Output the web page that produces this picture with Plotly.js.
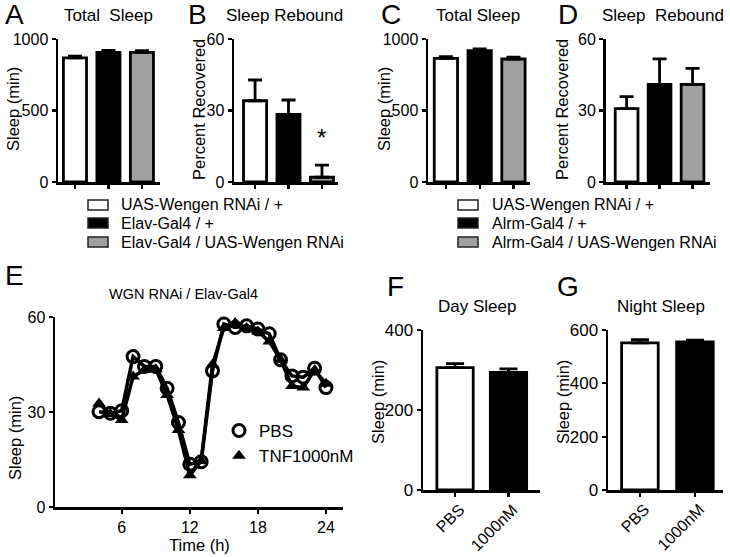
<!DOCTYPE html>
<html>
<head>
<meta charset="utf-8">
<script src="https://cdn.plot.ly/plotly-3.0.1.min.js"></script>
<style>html,body{margin:0;padding:0;background:#fff;}#chart{width:730px;height:557px;}</style>
</head>
<body>
<div id="chart"></div>
<script>
// ---------- DATA ----------
const groupsElav = ['UAS-Wengen RNAi / +', 'Elav-Gal4 / +', 'Elav-Gal4 / UAS-Wengen RNAi'];
const groupsAlrm = ['UAS-Wengen RNAi / +', 'Alrm-Gal4 / +', 'Alrm-Gal4 / UAS-Wengen RNAi'];

const totalSleepElav = [868, 906, 906];
const totalSleepElavErr = [12, 14, 13];
const reboundElav = [34.1, 28.4, 2.0];
const reboundElavErr = [8.7, 6.0, 5.1];

const totalSleepAlrm = [865, 918, 860];
const totalSleepAlrmErr = [12, 13, 13];
const reboundAlrm = [30.8, 41.0, 41.0];
const reboundAlrmErr = [5.0, 10.7, 6.7];

const hours = [4, 5, 6, 7, 8, 9, 10, 11, 12, 13, 14, 15, 16, 17, 18, 19, 20, 21, 22, 23, 24];
const sleepPBS = [30.1, 29.6, 30.4, 47.5, 44.4, 44.4, 37.5, 26.7, 13.5, 14.3, 43.0, 57.8, 56.7, 57.2, 56.2, 54.7, 46.5, 41.4, 41.0, 43.8, 37.7];
const sleepTNF = [32.7, 29.4, 27.5, 41.2, 43.3, 43.5, 35.4, 24.3, 10.0, 14.5, 45.0, 56.5, 58.1, 56.5, 55.4, 52.3, 46.5, 38.2, 37.7, 43.3, 38.9];

const treatments = ['PBS', '1000nM'];
const daySleep = [306, 294];
const daySleepErr = [10, 9];
const nightSleep = [552, 555];
const nightSleepErr = [12, 7];

const fills = ['#ffffff', '#000000', '#a0a0a0'];
const treatFills = ['#ffffff', '#000000'];

// ---------- HELPERS ----------
const W = 730, H = 557;
const px = v => v / W;
const py = v => 1 - v / H;
const FONT = 'Liberation Sans, Arial, Helvetica, sans-serif';

function barSet(cats, vals, errs, colors, xa, ya, width, capw) {
  return cats.map((c, i) => ({
    type: 'bar', x: [c], y: [vals[i]], name: c, xaxis: xa, yaxis: ya,
    width: width, showlegend: false,
    marker: {color: colors[i], line: {color: '#000', width: 2.8}},
    error_y: {type: 'data', array: [errs[i]], arrayminus: [0], symmetric: false,
              color: '#000', thickness: 2.8, width: capw},
    hoverinfo: 'none'
  }));
}

const traces = [
  ...barSet(groupsElav, totalSleepElav, totalSleepElavErr, fills, 'x', 'y', 0.69, 7),
  ...barSet(groupsElav, reboundElav, reboundElavErr, fills, 'x2', 'y2', 0.69, 7),
  ...barSet(groupsAlrm, totalSleepAlrm, totalSleepAlrmErr, fills, 'x3', 'y3', 0.69, 7),
  ...barSet(groupsAlrm, reboundAlrm, reboundAlrmErr, fills, 'x4', 'y4', 0.69, 7),
  {type: 'scatter', mode: 'lines+markers', x: hours, y: sleepTNF, xaxis: 'x5', yaxis: 'y5',
   name: 'TNF1000nM', showlegend: false, cliponaxis: false,
   line: {color: '#000', width: 3.5}, marker: {symbol: 'triangle-up', size: 12, color: '#000'}},
  {type: 'scatter', mode: 'lines+markers', x: hours, y: sleepPBS, xaxis: 'x5', yaxis: 'y5',
   name: 'PBS', showlegend: false, cliponaxis: false,
   line: {color: '#000', width: 3.5},
   marker: {symbol: 'circle-open', size: 12, color: '#000', line: {width: 3, color: '#000'}}},
  // legend keys for panel E (marker only)
  {type: 'scatter', mode: 'markers', x: [null], y: [null], xaxis: 'x5', yaxis: 'y5', name: 'PBS',
   legend: 'legend', marker: {symbol: 'circle-open', size: 12, color: '#000', line: {width: 3, color: '#000'}}},
  {type: 'scatter', mode: 'markers', x: [null], y: [null], xaxis: 'x5', yaxis: 'y5', name: 'TNF1000nM',
   legend: 'legend', marker: {symbol: 'triangle-up', size: 12, color: '#000'}},
  ...barSet(treatments, daySleep, daySleepErr, treatFills, 'x6', 'y6', 0.68, 9),
  ...barSet(treatments, nightSleep, nightSleepErr, treatFills, 'x7', 'y7', 0.665, 9)
];

const axBase = {
  showline: true, linecolor: '#000', linewidth: 2.5, ticks: 'outside', ticklen: 4,
  tickwidth: 2.2, tickcolor: '#000', showgrid: false, zeroline: false,
  tickfont: {family: FONT, size: 16, color: '#000'}, fixedrange: true
};
function xcat(dom, cats, range, anchor) {
  return Object.assign({}, axBase, {domain: [px(dom[0]), px(dom[1])], type: 'category',
    categoryorder: 'array', categoryarray: cats, range: range, anchor: anchor,
    showticklabels: false});
}
function ylin(dom, range, dtick, anchor, fsize) {
  return Object.assign({}, axBase, {domain: [py(dom[1]), py(dom[0])], range: range,
    tickmode: 'linear', tick0: 0, dtick: dtick, anchor: anchor,
    tickfont: {family: FONT, size: fsize || 16, color: '#000'}});
}

const ann = [];
function txt(t, x, y, size, opts) {
  ann.push(Object.assign({text: t, x: px(x), y: py(y), xref: 'paper', yref: 'paper',
    showarrow: false, xanchor: 'center', yanchor: 'middle',
    font: {family: FONT, size: size, color: '#000'}}, opts || {}));
}
// panel letters
txt('A', 3, 14, 28, {xanchor: 'left'});
txt('B', 186, 14, 28, {xanchor: 'left'});
txt('C', 379, 14, 28, {xanchor: 'left'});
txt('D', 556, 14, 28, {xanchor: 'left'});
txt('E', 3, 276, 28, {xanchor: 'left'});
txt('F', 385, 286, 28, {xanchor: 'left'});
txt('G', 555, 286, 28, {xanchor: 'left'});
// panel titles
txt('Total&nbsp;&nbsp;Sleep', 108, 16, 17);
txt('Sleep Rebound', 284, 16, 17);
txt('Total Sleep', 478, 16, 17);
txt('Sleep&nbsp;&nbsp;Rebound', 663, 16, 17);
txt('WGN RNAi / Elav-Gal4', 183, 294, 14.5);
txt('Day Sleep', 477, 306, 17);
txt('Night Sleep', 661, 306, 17);
// axis titles
txt('Sleep (min)', 13, 109, 16.5, {textangle: -90});
txt('Percent Recovered', 199, 110, 16.5, {textangle: -90});
txt('Sleep (min)', 384, 109, 16.5, {textangle: -90});
txt('Percent Recovered', 562, 110, 16.5, {textangle: -90});
txt('Sleep (min)', 15, 438, 16.5, {textangle: -90});
txt('Sleep (min)', 378, 402, 16.5, {textangle: -90});
txt('Sleep (min)', 563, 402, 16.5, {textangle: -90});
txt('Time (h)', 199, 545, 16.5);
// rotated category labels for panels F and G
['x6', 'x7'].forEach(xr => {
  treatments.forEach(t => {
    ann.push({text: t, x: t, xref: xr, y: py(498), yref: 'paper', showarrow: false,
      textangle: -45, xanchor: 'right', yanchor: 'top', xshift: 15,
      font: {family: FONT, size: 16, color: '#000'}});
  });
});
// significance star
ann.push({text: '*', x: groupsElav[2], y: reboundElav[2] + reboundElavErr[2], xref: 'x2', yref: 'y2',
  showarrow: false, yanchor: 'bottom', yshift: 12, font: {family: FONT, size: 24, color: '#000'}});

// manual legends for panels A-B and C-D
const shapes = [];
const rowY = [205, 223, 242];
function legendBlock(cats, swX, txX) {
  cats.forEach((c, i) => {
    shapes.push({type: 'rect', xref: 'paper', yref: 'paper',
      x0: px(swX), x1: px(swX + 20), y0: py(rowY[i] + 5), y1: py(rowY[i] - 5),
      fillcolor: fills[i], line: {color: '#222', width: 1.5}});
    txt(c, txX, rowY[i], 16, {xanchor: 'left'});
  });
}
legendBlock(groupsElav, 88, 119);
legendBlock(groupsAlrm, 458, 490);

const layout = {
  width: W, height: H, margin: {l: 0, r: 0, t: 0, b: 0},
  paper_bgcolor: '#fff', plot_bgcolor: 'rgba(0,0,0,0)',
  font: {family: FONT, size: 16, color: '#000'},
  barmode: 'overlay', showlegend: true,
  legend: {x: px(219), y: py(413), xanchor: 'left', yanchor: 'top', bgcolor: 'rgba(0,0,0,0)',
           font: {family: FONT, size: 17, color: '#000'}, traceorder: 'normal'},
  xaxis: xcat([58, 160], groupsElav, [-0.507, 2.54], 'y'),
  yaxis: ylin([39, 182], [0, 1000], 500, 'x'),
  xaxis2: xcat([234, 338], groupsElav, [-0.63, 2.48], 'y2'),
  yaxis2: ylin([39, 182], [0, 60], 30, 'x2'),
  xaxis3: xcat([428, 530], groupsAlrm, [-0.53, 2.49], 'y3'),
  yaxis3: ylin([39, 182], [0, 1000], 500, 'x3'),
  xaxis4: xcat([605.5, 710], groupsAlrm, [-0.64, 2.53], 'y4'),
  yaxis4: ylin([39, 182], [0, 60], 30, 'x4'),
  xaxis5: Object.assign({}, axBase, {domain: [px(55), px(343)], range: [0.12, 25.5], anchor: 'y5',
           tickmode: 'array', tickvals: [6, 12, 18, 24]}),
  yaxis5: ylin([317, 507], [0, 60], 30, 'x5'),
  xaxis6: xcat([423, 540], treatments, [-0.6, 1.59], 'y6'),
  yaxis6: ylin([330, 490], [0, 400], 200, 'x6', 17),
  xaxis7: xcat([608, 723], treatments, [-0.58, 1.51], 'y7'),
  yaxis7: ylin([330, 490], [0, 600], 200, 'x7', 17),
  annotations: ann,
  shapes: shapes
};

Plotly.newPlot('chart', traces, layout, {staticPlot: true, displayModeBar: false});
</script>
</body>
</html>
